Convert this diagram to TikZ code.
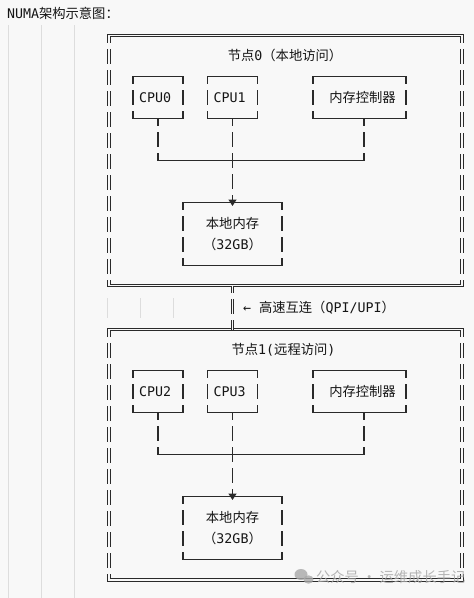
\documentclass[tikz,border=0pt]{standalone}
\usepackage{fontspec}
\setmonofont{DejaVu Sans Mono}
\newfontfamily\cjkf{Noto Sans CJK SC}
\usetikzlibrary{arrows.meta}
\definecolor{bgc}{HTML}{F8F8F8}
\definecolor{ink}{HTML}{2A2A2A}
\definecolor{txt}{HTML}{151515}
\definecolor{guidec}{HTML}{DDDDDD}
\definecolor{wmc}{HTML}{A8A8A8}
\newcommand\mn[1]{{\ttfamily #1}}
\newcommand\cj[1]{{\cjkf #1}}
\newcommand\gapsides[1]{%
  \draw[gapper] (#1.north west) -- (#1.south west);
  \draw[gapper] (#1.north east) -- (#1.south east);}
\begin{document}
\begin{tikzpicture}[x=1pt,y=-1pt,
  font=\fontsize{13.3}{21}\selectfont, text=txt,
  box/.style={draw=ink, line width=1.2pt, outer sep=0pt, inner sep=0pt, minimum height=42pt},
  dbox/.style={draw=ink, line width=0.9pt, double=bgc, double distance=1.8pt, outer sep=0pt, inner sep=0pt},
  hl/.style={draw=ink, line width=1.2pt},
  vl/.style={hl, dash pattern=on 15pt off 6pt, dash phase=7.5pt},
  dvl/.style={draw=ink, line width=0.9pt, double=bgc, double distance=1.4pt, dash pattern=on 15pt off 6pt, dash phase=7.5pt},
  gapper/.style={draw=bgc, line width=5pt, dash pattern=on 6pt off 15pt, dash phase=13.5pt},
  guide/.style={draw=guidec, line width=0.9pt},
  lbl/.style={inner sep=0pt, outer sep=0pt},
  tip/.style={-{Triangle[width=8pt,length=6.5pt]}, shorten >=-3.5pt},
]
\useasboundingbox (0,0) rectangle (474,598);
\fill[bgc] (0,0) rectangle (474,598);
% indent guides
\draw[guide] (8,25) -- (8,598);
\draw[guide] (41,25) -- (41,598);
\draw[guide] (74,25) -- (74,598);
\draw[guide] (107,298) -- (107,318);
\draw[guide] (140,298) -- (140,318);
\draw[guide] (173,298) -- (173,318);

\node[lbl, anchor=west] (title) at (7,13.5) {\mn{NUMA}\cj{架构示意图：}};

% ---------- node 0 ----------
\node[dbox, minimum width=353pt, minimum height=250pt] (n0) at (285.5,160.5) {};
\node[lbl] (t0) at (285,55.5) {\cj{节点}\mn{0}\cj{（本地访问）}};
\node[box, minimum width=50pt, text width=38pt, align=left] (cpu0) at (158,97.5) {\mn{CPU0}};
\node[box, minimum width=50pt, text width=38pt, align=left] (cpu1) at (232.5,97.5) {\mn{CPU1}};
\node[box, minimum width=93pt] (mc0) at (359.5,97.5) {\kern6pt\cj{内存控制器}};
\node[box, minimum width=99pt, minimum height=63pt, align=center] (mem0) at (232.5,234) {\cj{本地内存}\\\cj{（}\mn{32GB}\cj{）}};
\coordinate (bus0) at (232.5,160.5);
\coordinate (mcp0) at ([xshift=4.5pt]mc0.south);

% ---------- node 1 ----------
\node[dbox, minimum width=353pt, minimum height=250.5pt] (n1) at (285.5,454.75) {};
\node[lbl] (t1) at (283.5,349.5) {\cj{节点}\mn{1(}\cj{远程访问}\mn{)}};
\node[box, minimum width=50pt, text width=38pt, align=left] (cpu2) at (158,391.5) {\mn{CPU2}};
\node[box, minimum width=50pt, text width=38pt, align=left] (cpu3) at (232.5,391.5) {\mn{CPU3}};
\node[box, minimum width=93pt] (mc1) at (359.5,391.5) {\kern6pt\cj{内存控制器}};
\node[box, minimum width=99pt, minimum height=63pt, align=center] (mem1) at (232.5,528) {\cj{本地内存}\\\cj{（}\mn{32GB}\cj{）}};
\coordinate (bus1) at (232.5,454.5);
\coordinate (mcp1) at ([xshift=4.5pt]mc1.south);

% gaps in vertical box sides (ASCII look)
\gapsides{n0}\gapsides{cpu0}\gapsides{cpu1}\gapsides{mc0}\gapsides{mem0}
\gapsides{n1}\gapsides{cpu2}\gapsides{cpu3}\gapsides{mc1}\gapsides{mem1}

% connectors node 0
\draw[vl] (cpu0.south) -- (cpu0.south |- bus0);
\draw[vl] (mcp0) -- (mcp0 |- bus0);
\draw[hl] (cpu0.south |- bus0) -- (mcp0 |- bus0);
\draw[vl, tip] (cpu1.south) -- (mem0.north);

% connectors node 1
\draw[vl] (cpu2.south) -- (cpu2.south |- bus1);
\draw[vl] (mcp1) -- (mcp1 |- bus1);
\draw[hl] (cpu2.south |- bus1) -- (mcp1 |- bus1);
\draw[vl, tip] (cpu3.south) -- (mem1.north);

% interconnect
\draw[dvl] (n0.south -| mem0) -- (n1.north -| mem1);
\node[lbl, anchor=west] (qpi) at (243,307.5) {\mn{← }\cj{高速互连（}\mn{QPI/UPI}\cj{）}};

% watermark
\fill[wmc, opacity=0.8] (301,574.5) ellipse (6.5pt and 5.5pt);
\fill[wmc, opacity=0.8] (308.5,579.5) ellipse (5pt and 4.2pt);
\node[lbl, anchor=west, text=wmc, text opacity=0.85, font=\fontsize{14.3}{15}\selectfont] (wm) at (316,577) {\cj{公众号 · 运维成长手记}};
\end{tikzpicture}
\end{document}
